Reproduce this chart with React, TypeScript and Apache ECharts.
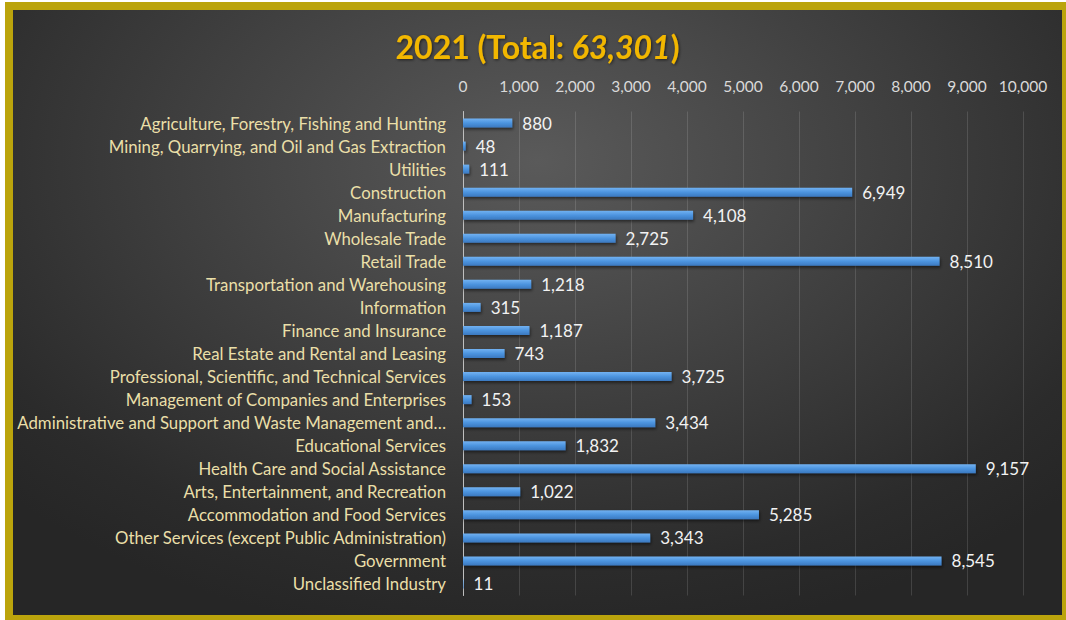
import React, { useEffect, useRef } from "react";
import * as echarts from "echarts";

const categories = [
  "Agriculture, Forestry, Fishing and Hunting",
  "Mining, Quarrying, and Oil and Gas Extraction",
  "Utilities",
  "Construction",
  "Manufacturing",
  "Wholesale Trade",
  "Retail Trade",
  "Transportation and Warehousing",
  "Information",
  "Finance and Insurance",
  "Real Estate and Rental and Leasing",
  "Professional, Scientific, and Technical Services",
  "Management of Companies and Enterprises",
  "Administrative and Support and Waste Management and…",
  "Educational Services",
  "Health Care and Social Assistance",
  "Arts, Entertainment, and Recreation",
  "Accommodation and Food Services",
  "Other Services (except Public Administration)",
  "Government",
  "Unclassified Industry",
];

const values = [
  880, 48, 111, 6949, 4108, 2725, 8510, 1218, 315, 1187, 743, 3725, 153, 3434,
  1832, 9157, 1022, 5285, 3343, 8545, 11,
];

const titleYear = "2021";
const titleTotal = "63,301";
const xMin = 0;
const xMax = 10000;
const xInterval = 1000;

const fmt = (v: number) => v.toLocaleString("en-US");

const FONT = "Lato, 'Open Sans', sans-serif";

export default function App() {
  const ref = useRef<HTMLDivElement>(null);

  useEffect(() => {
    document.body.style.margin = "0";
    document.body.style.overflow = "hidden";
    if (!ref.current) return;
    const chart = echarts.init(ref.current, null, { renderer: "svg" });
    const titleStyle = {
      fontFamily: FONT,
      fontSize: 32,
      fontWeight: "bold",
      color: "#F2B705",
      textShadowColor: "rgba(0,0,0,0.6)",
      textShadowBlur: 3,
      textShadowOffsetX: 1,
      textShadowOffsetY: 1,
    };
    chart.setOption({
      animation: false,
      backgroundColor: "transparent",
      title: {
        text: `{a|${titleYear} (Total: }{b|${titleTotal}}{a|)}`,
        left: "center",
        top: 15,
        textStyle: {
          rich: {
            a: { ...titleStyle },
            b: { ...titleStyle, fontStyle: "italic" },
          },
        },
      },
      grid: {
        left: 450,
        right: 39,
        top: 101.5,
        bottom: 19.5,
        containLabel: false,
      },
      xAxis: {
        type: "value",
        position: "top",
        min: xMin,
        max: xMax,
        interval: xInterval,
        axisLine: { show: false },
        axisTick: { show: false },
        axisLabel: {
          color: "#D9D9D9",
          fontFamily: FONT,
          fontSize: 15.5,
          margin: 18,
          formatter: (v: number) => fmt(v),
        },
        splitLine: {
          show: true,
          lineStyle: { color: "rgba(255,255,255,0.13)", width: 1 },
        },
      },
      yAxis: {
        type: "category",
        data: categories,
        inverse: true,
        axisLine: { show: true, lineStyle: { color: "#BFBFBF", width: 1 } },
        axisTick: { show: false },
        axisLabel: {
          color: "#EADFA8",
          fontFamily: FONT,
          fontSize: 16.8,
          margin: 17,
        },
      },
      series: [
        {
          type: "bar",
          data: values,
          barWidth: 9,
          itemStyle: {
            color: new echarts.graphic.LinearGradient(0, 0, 0, 1, [
              { offset: 0, color: "#72B2F2" },
              { offset: 0.5, color: "#4C94DF" },
              { offset: 1, color: "#3B79C0" },
            ]),
            shadowColor: "rgba(0,0,0,0.5)",
            shadowBlur: 3,
            shadowOffsetX: 1,
            shadowOffsetY: 2,
          },
          label: {
            show: true,
            position: "right",
            distance: 10,
            color: "#F2F2F2",
            fontFamily: FONT,
            fontSize: 17,
            formatter: (p: any) => fmt(p.value),
          },
        },
      ],
    });
    return () => chart.dispose();
  }, []);

  return (
    <div
      style={{
        position: "absolute",
        left: 5,
        top: 2,
        width: 1065,
        height: 621,
        boxSizing: "border-box",
        border: "8px solid #BBA40C",
        background:
          "radial-gradient(ellipse 70% 80% at 50% 25%, #5a5a5a 0%, #414141 45%, #2b2b2b 85%, #262626 100%)",
        overflow: "hidden",
      }}
    >
      <div ref={ref} style={{ width: 1049, height: 605 }} />
    </div>
  );
}
